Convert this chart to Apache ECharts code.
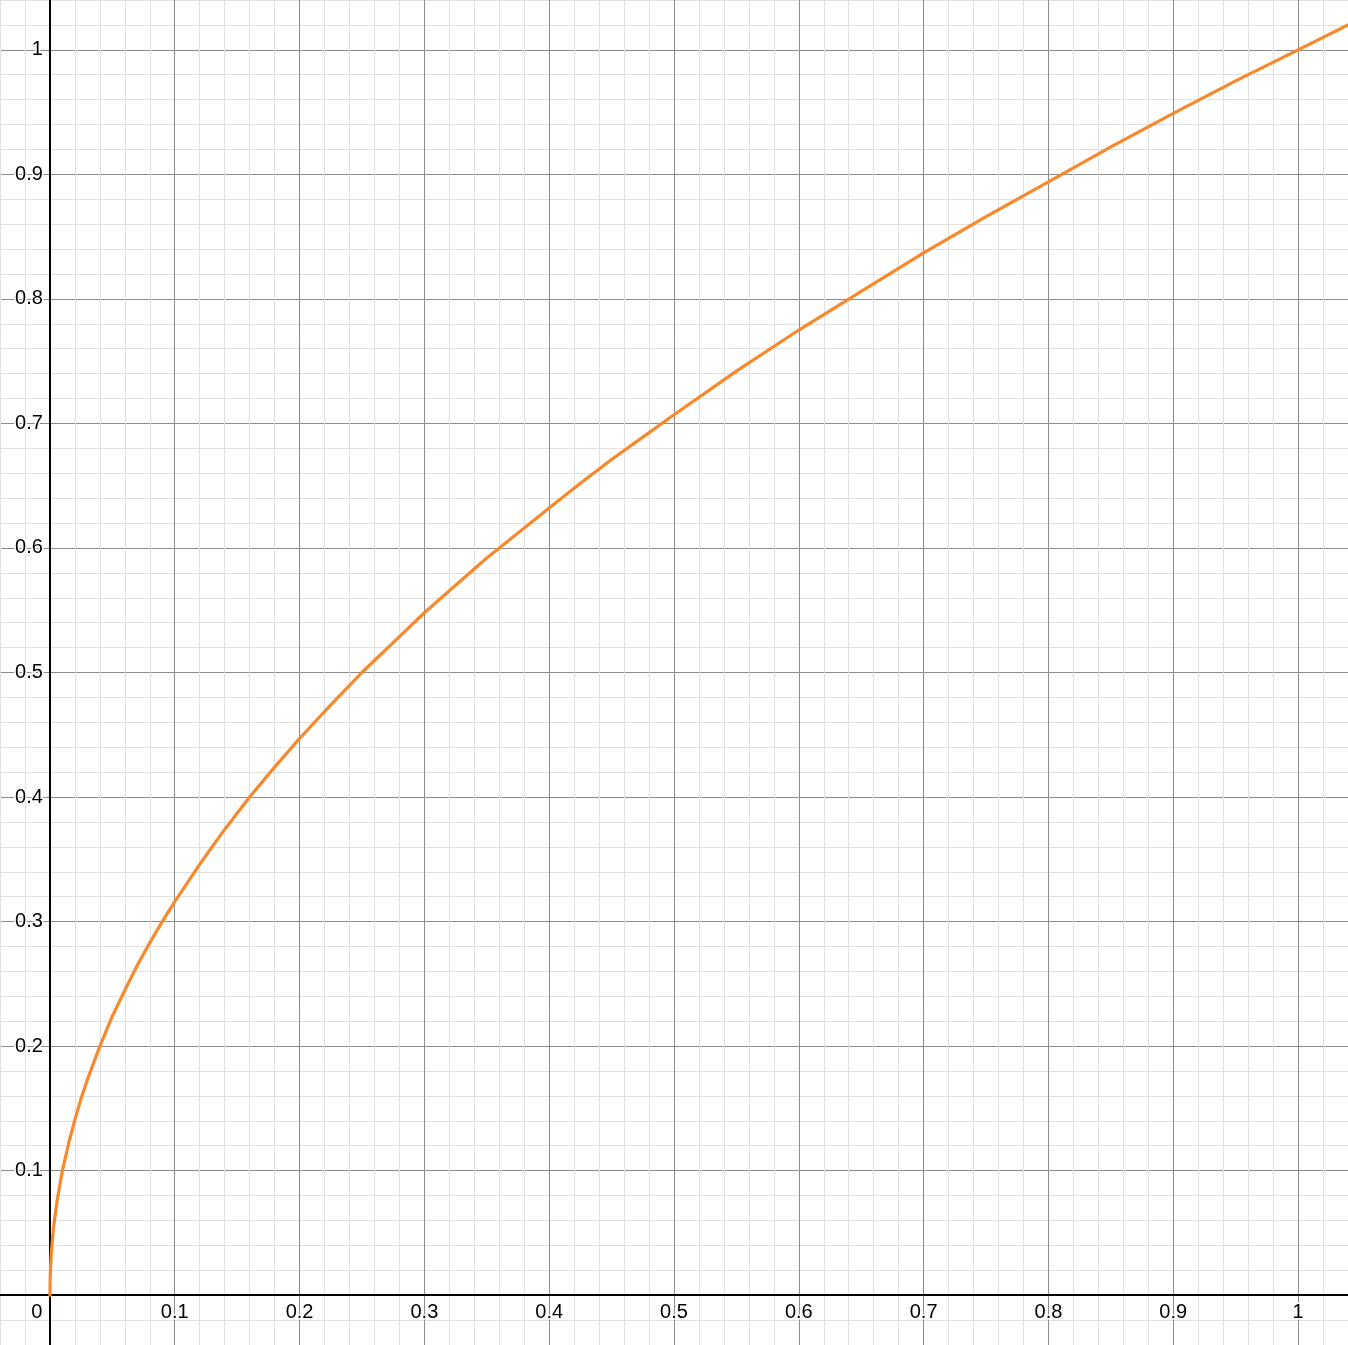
<!DOCTYPE html>
<html>
<head>
<meta charset="utf-8">
<script src="https://cdn.jsdelivr.net/npm/echarts@6/dist/echarts.min.js"></script>
<style>
html,body{margin:0;padding:0;background:#fff;}
#chart{width:1348px;height:1345px;}
</style>
</head>
<body>
<div id="chart"></div>
<script>
// Points (x, y)
const curveX = [0, 0.0002, 0.0005, 0.001, 0.002, 0.003, 0.004, 0.006, 0.008, 0.01, 0.015, 0.02, 0.025, 0.03, 0.04, 0.05, 0.06, 0.07, 0.08, 0.09, 0.1, 0.12, 0.14, 0.16, 0.18, 0.2, 0.225, 0.25, 0.275, 0.3, 0.325, 0.35, 0.375, 0.4, 0.425, 0.45, 0.475, 0.5, 0.55, 0.6, 0.65, 0.7, 0.75, 0.8, 0.85, 0.9, 0.95, 1.0, 1.04];
const curveY = [0, 0.014, 0.022, 0.032, 0.045, 0.055, 0.063, 0.077, 0.089, 0.1, 0.122, 0.141, 0.158, 0.173, 0.2, 0.224, 0.245, 0.265, 0.283, 0.3, 0.316, 0.346, 0.374, 0.4, 0.424, 0.447, 0.474, 0.5, 0.524, 0.548, 0.570, 0.592, 0.612, 0.632, 0.652, 0.671, 0.689, 0.707, 0.742, 0.775, 0.806, 0.837, 0.866, 0.894, 0.922, 0.949, 0.975, 1.0, 1.02];
// Axis ranges and tick step
const xRange = [-0.04, 1.04];
const yRange = [-0.04, 1.04];
const minorStep = 0.02;

const W = 1348, H = 1345;
const MAJOR = '#8c8c8c', MINOR = '#e0e0e0';
const gridColors = [MINOR, MINOR, MAJOR, MINOR, MINOR];
const FONT = '"Liberation Sans", Arial, Helvetica, sans-serif';
const FS = 20;

function isMajor(v){ return Math.abs(Math.round(v*50)) % 5 === 0; }
function fmt(v){ return String(Math.round(v*10)/10); }

// place the axes at the zero of the other axis
const xAxisOffset = -H * (0 - yRange[0]) / (yRange[1] - yRange[0]);
const yAxisOffset = -W * (0 - xRange[0]) / (xRange[1] - xRange[0]);

const chart = echarts.init(document.getElementById('chart'), null, {renderer:'canvas'});
chart.setOption({
  animation:false,
  backgroundColor:'#fff',
  grid:{left:0,right:0,top:0,bottom:0,containLabel:false,outerBoundsMode:'none'},
  xAxis:{
    type:'value', min:xRange[0], max:xRange[1], interval:minorStep,
    position:'bottom', offset:xAxisOffset,
    axisLine:{show:true,onZero:false,lineStyle:{color:'#000',width:2}},
    axisTick:{show:false},
    splitLine:{show:true,lineStyle:{color:gridColors,width:1}},
    axisLabel:{
      show:true, margin:7, color:'#000', fontSize:FS, fontFamily:FONT,
      textBorderColor:'#fff', textBorderWidth:3, hideOverlap:false,
      formatter:function(v){
        if (Math.abs(v) < 1e-9) return '{o|0}';
        if (v < 0 || v > 1.001) return '';
        return isMajor(v) ? fmt(v) : '';
      },
      rich:{o:{fontSize:FS,fontFamily:FONT,color:'#000',textBorderColor:'#fff',textBorderWidth:3,padding:[0,26,0,0]}}
    },
    z:1
  },
  yAxis:{
    type:'value', min:yRange[0], max:yRange[1], interval:minorStep,
    position:'left', offset:yAxisOffset,
    axisLine:{show:true,onZero:false,lineStyle:{color:'#000',width:2}},
    axisTick:{show:false},
    splitLine:{show:true,lineStyle:{color:gridColors,width:1}},
    axisLabel:{
      show:true, margin:7, color:'#000', fontSize:FS, fontFamily:FONT,
      textBorderColor:'#fff', textBorderWidth:3, hideOverlap:false,
      formatter:function(v){
        if (Math.abs(v) < 1e-9) return '';
        if (v < 0 || v > 1.001) return '';
        return isMajor(v) ? fmt(v) : '';
      }
    },
    z:1
  },
  series:[{
    type:'line',
    data: curveX.map((x,i)=>[x, curveY[i]]),
    showSymbol:false,
    smooth:false,
    lineStyle:{color:'#f7892c',width:3.2,join:'round',cap:'round'},
    clip:true,
    z:5
  }]
});
</script>
</body>
</html>
